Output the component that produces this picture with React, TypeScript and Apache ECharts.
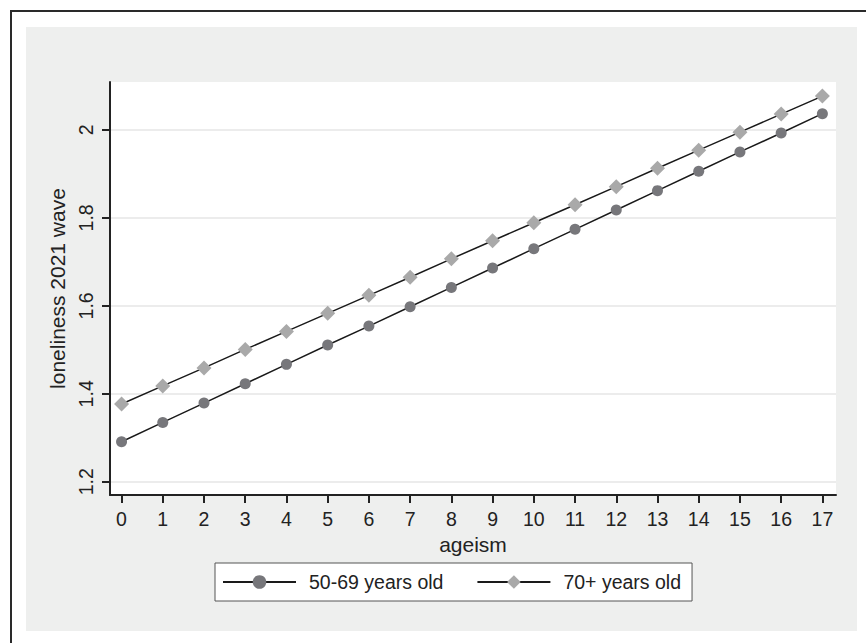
import React, { useEffect, useRef } from "react";
import * as echarts from "echarts";

const ageism = [0, 1, 2, 3, 4, 5, 6, 7, 8, 9, 10, 11, 12, 13, 14, 15, 16, 17];
const group5069 = [1.291, 1.335, 1.379, 1.423, 1.467, 1.511, 1.554, 1.598, 1.642, 1.686, 1.730, 1.774, 1.818, 1.862, 1.906, 1.950, 1.993, 2.037];
const group70 = [1.377, 1.418, 1.459, 1.501, 1.542, 1.583, 1.624, 1.665, 1.707, 1.748, 1.789, 1.830, 1.871, 1.913, 1.954, 1.995, 2.036, 2.077];
const yTicks = [1.2, 1.4, 1.6, 1.8, 2];
const seriesNames = ["50-69 years old", "70+ years old"];

const FONT = "'Liberation Sans', Arial, Helvetica, sans-serif";
const FS = 19.5;
const TITLE_FS = 21;

export default function App() {
  const ref = useRef<HTMLDivElement>(null);
  useEffect(() => {
    if (!ref.current) return;
    const chart = echarts.init(ref.current, undefined, { renderer: "svg" });
    chart.setOption({
      animation: false,
      backgroundColor: "#ffffff",
      textStyle: { fontFamily: FONT },
      graphic: [
        { type: "rect", z: -10, shape: { x: 26, y: 27, width: 831, height: 604 }, style: { fill: "#eeefee" } },
        { type: "line", shape: { x1: 10, y1: 11, x2: 866, y2: 11 }, style: { stroke: "#2a2a2a", lineWidth: 2 } },
        { type: "line", shape: { x1: 11, y1: 10, x2: 11, y2: 643 }, style: { stroke: "#2a2a2a", lineWidth: 2 } },
      ],
      grid: {
        left: 110,
        right: 30,
        top: 82,
        bottom: 148,
        show: true,
        backgroundColor: "#ffffff",
        borderWidth: 0,
        containLabel: false,
      },
      legend: {
        data: seriesNames,
        left: 215,
        top: 563,
        orient: "horizontal",
        backgroundColor: "#ffffff",
        borderColor: "#555555",
        borderWidth: 1,
        padding: [9, 11, 9, 7],
        itemWidth: 73,
        itemHeight: 17,
        itemGap: 33,
        textStyle: { fontSize: FS, color: "#222222", fontFamily: FONT, padding: [0, 0, 0, 8] },
      },
      xAxis: {
        type: "value",
        min: -0.28,
        max: 17.33,
        name: "ageism",
        nameLocation: "middle",
        nameGap: 36,
        nameTextStyle: { fontSize: TITLE_FS, color: "#222222", fontFamily: FONT },
        axisLine: { show: true, onZero: false, lineStyle: { color: "#222222", width: 2 } },
        axisTick: { show: true, length: 8, lineStyle: { color: "#222222", width: 2 }, customValues: ageism },
        axisLabel: { fontSize: FS, color: "#222222", margin: 14, customValues: ageism, fontFamily: FONT },
        splitLine: { show: false },
      },
      yAxis: {
        type: "value",
        min: 1.17,
        max: 2.109,
        name: "loneliness 2021 wave",
        nameLocation: "middle",
        nameRotate: 90,
        nameGap: 29,
        nameTextStyle: { fontSize: TITLE_FS, color: "#222222", fontFamily: FONT },
        axisLine: { show: true, onZero: false, lineStyle: { color: "#222222", width: 2 } },
        axisTick: { show: true, length: 8, lineStyle: { color: "#222222", width: 2 }, customValues: yTicks },
        axisLabel: {
          fontSize: FS,
          color: "#222222",
          rotate: 90,
          margin: 14,
          customValues: yTicks,
          fontFamily: FONT,
          formatter: (v: number) => String(Math.round(v * 10) / 10),
        },
        splitLine: { show: true, lineStyle: { color: "#e6e6e6", width: 1.5 } },
      },
      series: [
        {
          name: seriesNames[0],
          type: "line",
          data: ageism.map((x, i) => [x, group5069[i]]),
          symbol: "circle",
          symbolSize: 11,
          lineStyle: { color: "#1a1a1a", width: 1.5 },
          itemStyle: { color: "#77777b", borderWidth: 0 },
        },
        {
          name: seriesNames[1],
          type: "line",
          data: ageism.map((x, i) => [x, group70[i]]),
          symbol: "diamond",
          symbolSize: 15,
          lineStyle: { color: "#1a1a1a", width: 1.5 },
          itemStyle: { color: "#a9a9a9", borderWidth: 0 },
        },
      ],
    });
    return () => chart.dispose();
  }, []);
  return (
    <div style={{ position: "fixed", left: 0, top: 0 }}>
      <div ref={ref} style={{ width: 866, height: 643 }} />
    </div>
  );
}
